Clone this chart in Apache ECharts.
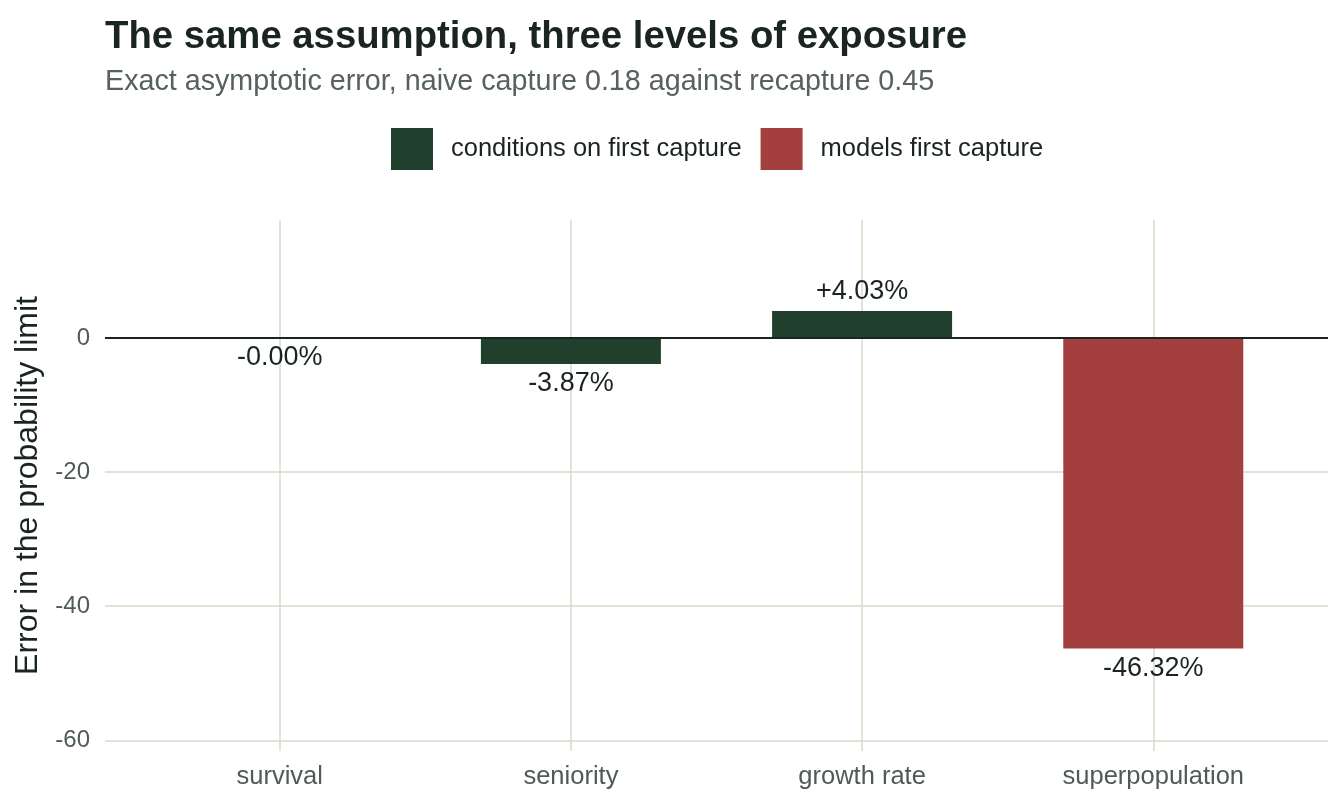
<!DOCTYPE html>
<html>
<head>
<meta charset="utf-8">
<script src="https://cdn.jsdelivr.net/npm/echarts@6/dist/echarts.min.js"></script>
<style>
  html, body { margin: 0; padding: 0; background: #fff; }
  #chart { width: 1344px; height: 806px; }
</style>
</head>
<body>
<div id="chart"></div>
<script>
// data
const categories = ['survival', 'seniority', 'growth rate', 'superpopulation']
const conditionsOnFirst = [-0.0004, -3.87, 4.03, null]
const modelsFirst = [null, null, null, -46.32]
const legendNames = ['conditions on first capture', 'models first capture']

const font = 'Liberation Sans'
const green = '#213f2d'
const red = '#a33f3f'
const ink = '#1a2420'
const muted = '#4f5b53'
const gridColor = '#d8d9c9'

function fmtPct(v) {
  return (v >= 0 ? '+' : '-') + Math.abs(v).toFixed(2) + '%'
}

function buildData(values) {
  return values.map(function(v, i) {
    if (v === null) return null
    return {
      value: [i + 1, v],
      label: {
        show: true,
        position: v >= 0 ? 'top' : 'bottom',
        distance: 6,
        formatter: fmtPct(v),
        color: ink,
        fontSize: 27,
        fontFamily: font
      }
    }
  })
}

const chart = echarts.init(document.getElementById('chart'))
chart.setOption({
  backgroundColor: '#fff',
  animation: false,
  textStyle: { fontFamily: font },
  title: {
    text: 'The same assumption, three levels of exposure',
    subtext: 'Exact asymptotic error, naive capture 0.18 against recapture 0.45',
    left: 100,
    top: 13,
    itemGap: 12,
    textStyle: { fontSize: 38.3, fontWeight: 'bold', color: ink, fontFamily: font },
    subtextStyle: { fontSize: 28.7, color: '#56625a', fontFamily: font }
  },
  legend: {
    data: legendNames,
    top: 123,
    left: 386,
    icon: 'rect',
    itemWidth: 42,
    itemHeight: 42,
    itemGap: 19,
    textStyle: { fontSize: 25.5, color: ink, fontFamily: font, padding: [4, 0, 0, 13] }
  },
  grid: { left: 105, right: 16, top: 220, bottom: 55 },
  xAxis: {
    type: 'value',
    min: 0.4,
    max: 4.6,
    axisLine: { show: false },
    axisTick: { show: false },
    axisLabel: {
      margin: 13,
      fontSize: 25.5,
      color: muted,
      fontFamily: font,
      showMinLabel: false,
      showMaxLabel: false,
      formatter: function(v) {
        const i = Math.round(v)
        return Math.abs(v - i) < 1e-6 && categories[i - 1] ? categories[i - 1] : ''
      }
    },
    splitLine: {
      show: true,
      showMinLine: false,
      showMaxLine: false,
      lineStyle: { color: gridColor, width: 1.5 }
    }
  },
  yAxis: {
    type: 'value',
    min: -61.6,
    max: 17.6,
    name: 'Error in the probability limit',
    nameLocation: 'middle',
    nameGap: 59,
    nameTextStyle: { fontSize: 32, color: ink, fontFamily: font },
    axisLine: { show: false },
    axisTick: { show: false },
    axisLabel: {
      margin: 15,
      fontSize: 24,
      color: muted,
      fontFamily: font,
      showMinLabel: false,
      showMaxLabel: false
    },
    splitLine: {
      show: true,
      showMinLine: false,
      showMaxLine: false,
      lineStyle: { color: gridColor, width: 1.5 }
    }
  },
  series: [
    {
      name: legendNames[0],
      type: 'bar',
      barWidth: 180,
      barGap: '-100%',
      itemStyle: { color: green },
      data: buildData(conditionsOnFirst),
      markLine: {
        silent: true,
        symbol: 'none',
        label: { show: false },
        lineStyle: { color: ink, width: 2, type: 'solid' },
        data: [{ yAxis: 0 }]
      }
    },
    {
      name: legendNames[1],
      type: 'bar',
      barWidth: 180,
      barGap: '-100%',
      itemStyle: { color: red },
      data: buildData(modelsFirst)
    }
  ]
})
</script>
</body>
</html>
